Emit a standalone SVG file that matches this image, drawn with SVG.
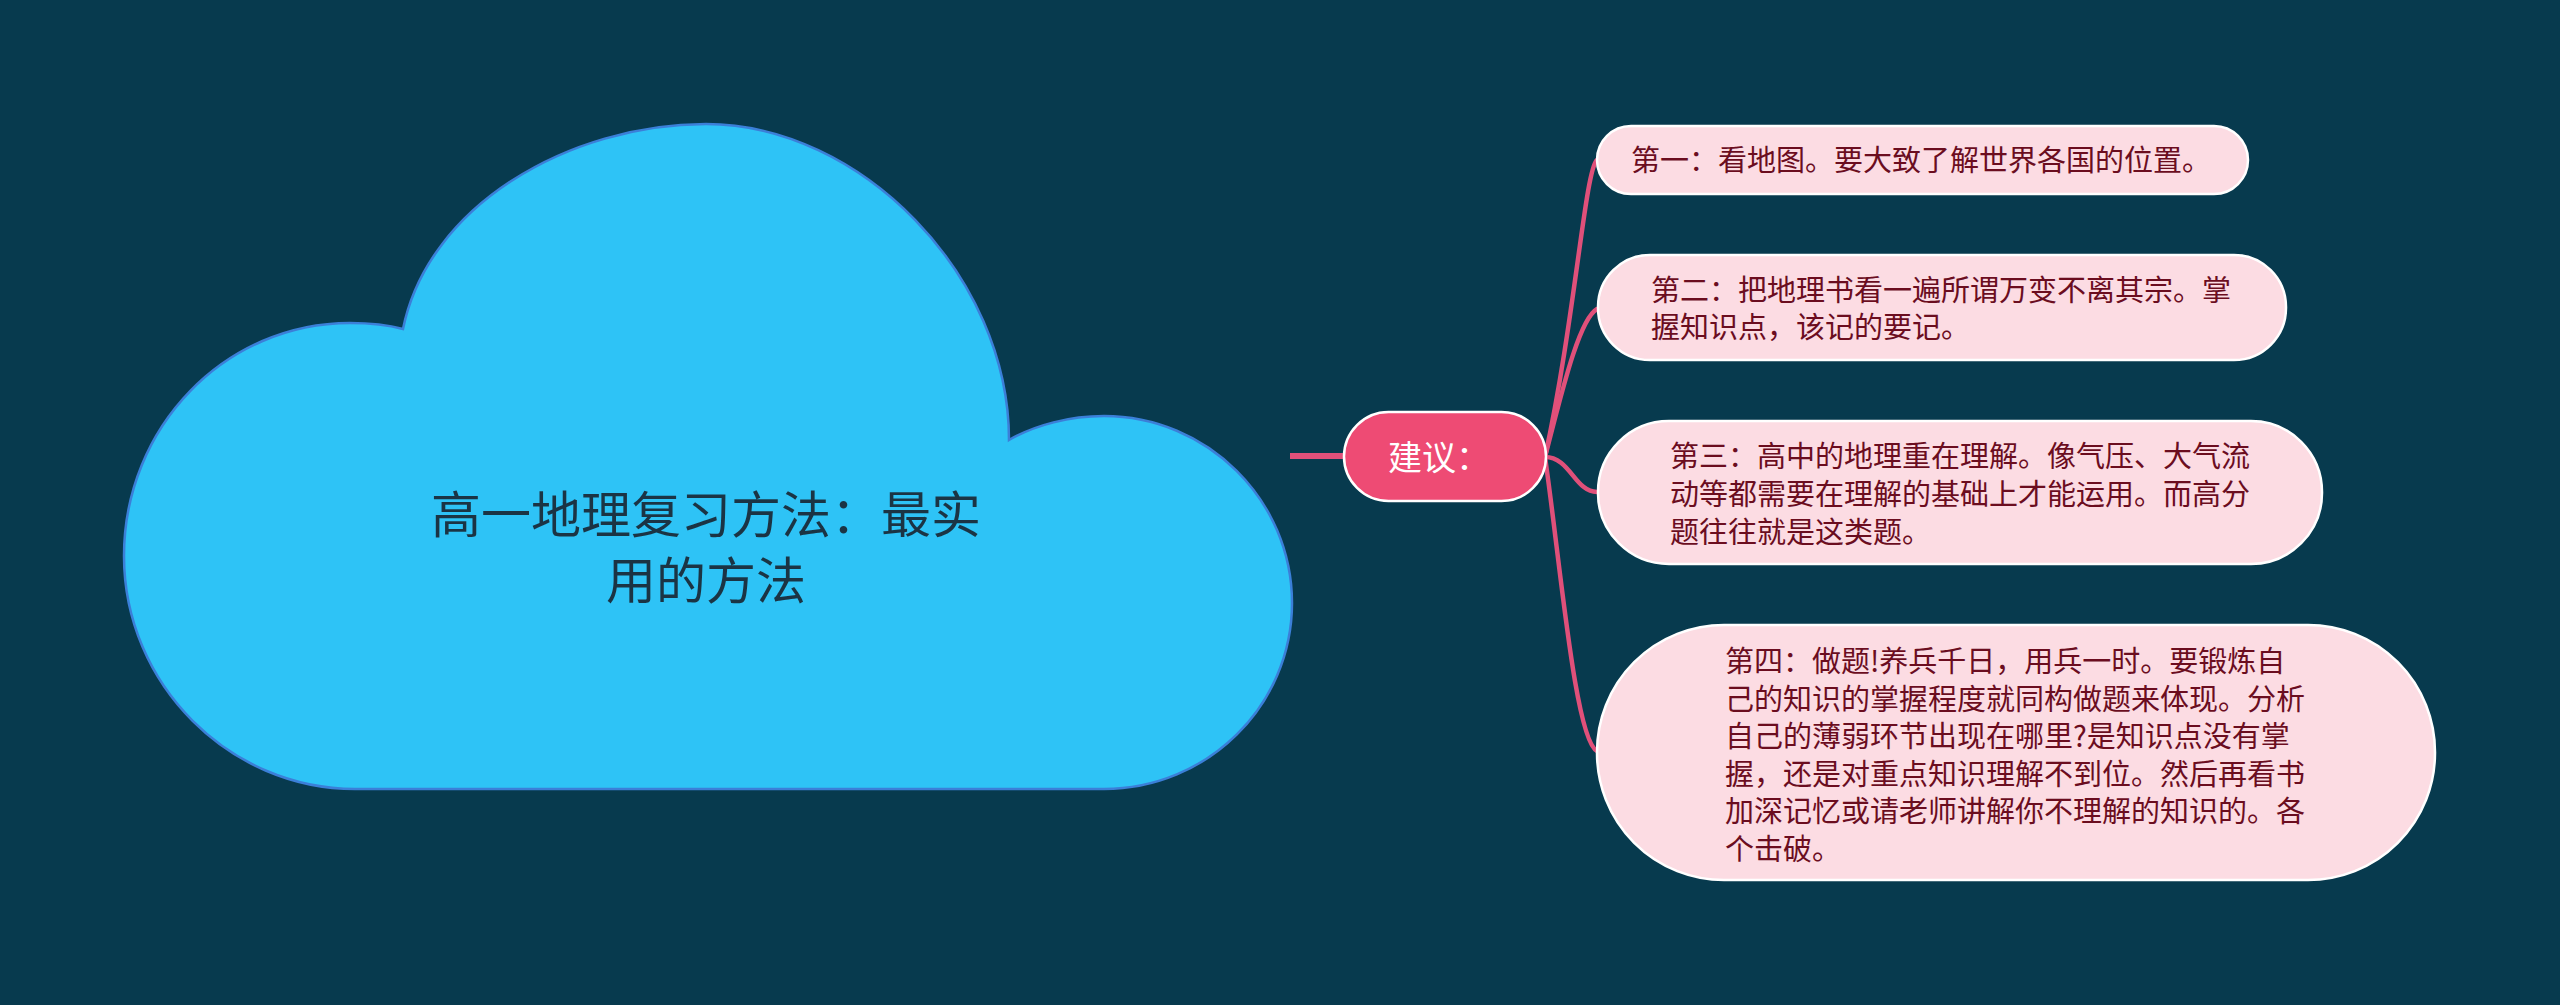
<svg xmlns="http://www.w3.org/2000/svg" width="2560" height="1005" viewBox="0 0 2560 1005">
<style>
  .t { font-family: "Noto Sans CJK SC", "Noto Sans", sans-serif; }
  .leaf rect { fill: #fcdce3; stroke: #ffffff; stroke-width: 2.5; }
  .leaf text { fill: #6b0d1f; font-size: 29px; }
  .conn { fill: none; stroke: #e0507a; stroke-width: 4.5; stroke-linecap: round; }
</style>
<rect x="0" y="0" width="2560" height="1005" fill="#073a4e"/>
<g id="connectors">
  <line x1="1290" y1="456" x2="1346" y2="456" stroke="#e0507a" stroke-width="6"/>
  <path class="conn" d="M1545,457 C1575,320 1585,170 1597,160"/>
  <path class="conn" d="M1545,457 C1560,400 1578,320 1597,309"/>
  <path class="conn" d="M1545,457 C1570,457 1575,492 1597,492"/>
  <path class="conn" d="M1545,457 C1560,560 1575,740 1597,751"/>
</g>
<g id="root">
  <path d="M355,789 C230,789 124,685 124,556 C124,427 225,323 350,323 C375,323 392,326 403,329 C428,205 570,124 706,124 C860,124 1009,275 1009,440 C1035,425 1070,416 1104,416 C1207,416 1292,500 1292,603 C1292,706 1207,789 1104,789 Z" fill="#2ec3f6" stroke="#3b7fd8" stroke-width="2.5"/>
  <text class="t" x="706" y="533" font-size="50" fill="#1b3444" text-anchor="middle">高一地理复习方法：最实</text>
  <text class="t" x="706" y="599" font-size="50" fill="#1b3444" text-anchor="middle">用的方法</text>
</g>
<g id="branch">
  <rect x="1344" y="412" width="202" height="89" rx="44.5" fill="#ee4b74" stroke="#ffffff" stroke-width="2.5"/>
  <text class="t" x="1388" y="470" font-size="34" fill="#ffffff">建议：</text>
</g>
<g id="leaf1" class="leaf">
  <rect x="1597" y="126" width="651" height="68" rx="34"/>
  <text class="t" x="1631" y="171">第一：看地图。要大致了解世界各国的位置。</text>
</g>
<g id="leaf2" class="leaf">
  <rect x="1598" y="255" width="688" height="105" rx="52"/>
  <text class="t" x="1651" y="301">第二：把地理书看一遍所谓万变不离其宗。掌</text>
  <text class="t" x="1651" y="338">握知识点，该记的要记。</text>
</g>
<g id="leaf3" class="leaf">
  <rect x="1598" y="421" width="724" height="143" rx="71"/>
  <text class="t" x="1670" y="467">第三：高中的地理重在理解。像气压、大气流</text>
  <text class="t" x="1670" y="505">动等都需要在理解的基础上才能运用。而高分</text>
  <text class="t" x="1670" y="543">题往往就是这类题。</text>
</g>
<g id="leaf4" class="leaf">
  <rect x="1597" y="625" width="838" height="255" rx="127"/>
  <text class="t" x="1725" y="672">第四：做题!养兵千日，用兵一时。要锻炼自</text>
  <text class="t" x="1725" y="710">己的知识的掌握程度就同构做题来体现。分析</text>
  <text class="t" x="1725" y="747">自己的薄弱环节出现在哪里?是知识点没有掌</text>
  <text class="t" x="1725" y="785">握，还是对重点知识理解不到位。然后再看书</text>
  <text class="t" x="1725" y="822">加深记忆或请老师讲解你不理解的知识的。各</text>
  <text class="t" x="1725" y="860">个击破。</text>
</g>
</svg>
